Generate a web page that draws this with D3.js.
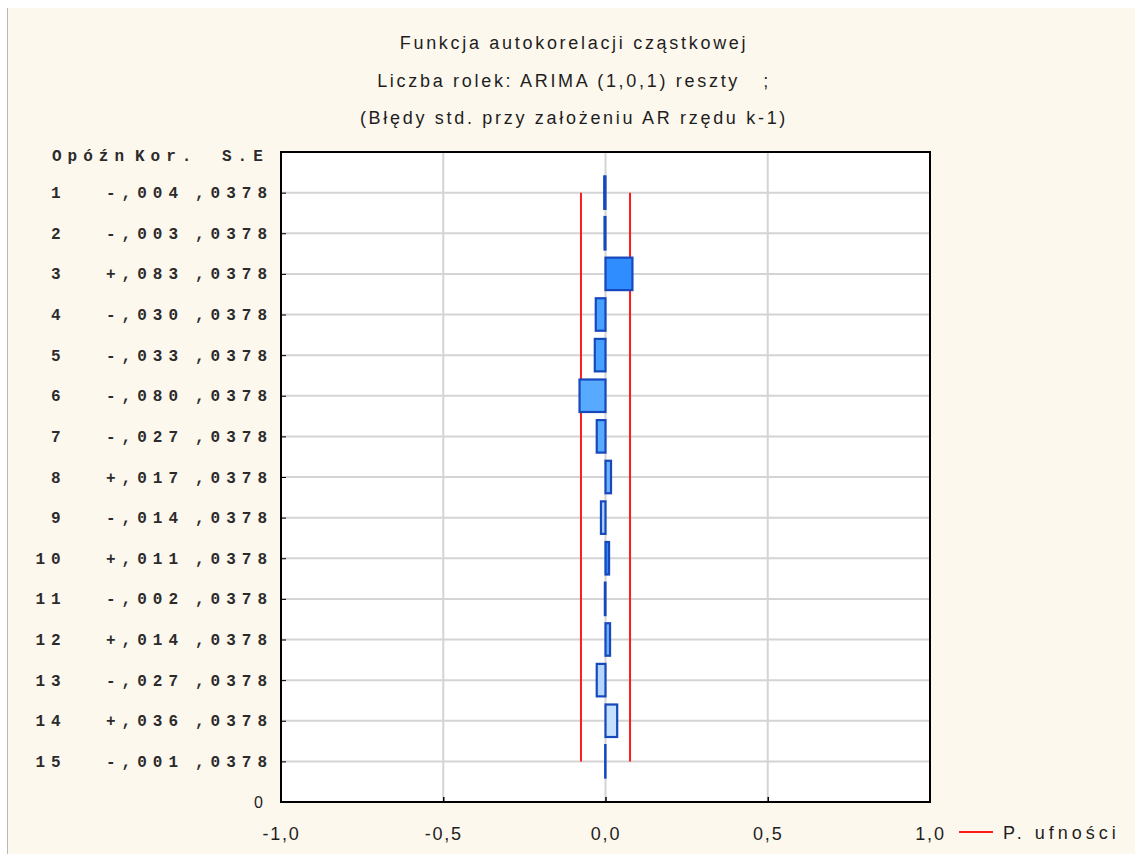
<!DOCTYPE html>
<html>
<head>
<meta charset="utf-8">
<script src="https://cdn.jsdelivr.net/npm/d3@7"></script>
<style>
  html, body { margin: 0; padding: 0; background: #ffffff; }
  svg { display: block; }
  text { white-space: pre; }
</style>
</head>
<body>
<svg id="chart" width="1135" height="854"></svg>
<script>
// ---- data ----
const titleLines = [
  "Funkcja autokorelacji cząstkowej",
  "Liczba rolek: ARIMA (1,0,1) reszty   ;",
  "(Błędy std. przy założeniu AR rzędu k-1)"
];
const lags = [1,2,3,4,5,6,7,8,9,10,11,12,13,14,15];
const pacf = [-0.004,-0.003,0.083,-0.030,-0.033,-0.080,-0.027,0.017,-0.014,0.011,-0.002,0.014,-0.027,0.036,-0.001];
const korLabels = ["-,004","-,003","+,083","-,030","-,033","-,080","-,027","+,017","-,014","+,011","-,002","+,014","-,027","+,036","-,001"];
const seValues = [0.0378,0.0378,0.0378,0.0378,0.0378,0.0378,0.0378,0.0378,0.0378,0.0378,0.0378,0.0378,0.0378,0.0378,0.0378];
const seLabels = [",0378",",0378",",0378",",0378",",0378",",0378",",0378",",0378",",0378",",0378",",0378",",0378",",0378",",0378",",0378"];
const tableHeader = ["Opóźn", "Kor.", "S.E"];
const xTicks = [-1.0, -0.5, 0.0, 0.5, 1.0];
const xGrid = [-0.5, 0.0, 0.5];
const yBottomLabel = "0";
const legendLabel = "P. ufności";
const barShades = ["#2f8dff","#2f8dff","#2f8dff","#45a0ff","#45a0ff","#58aaff","#58aaff","#6cb2ff","#a9d0ff","#2f8dff","#2f8dff","#6cb2ff","#b4d6ff","#c6e0ff","#2f8dff"];

// ---- layout ----
const svg = d3.select("#chart");
const W = 1135, H = 854;
const plot = { left: 281, top: 152, right: 930, bottom: 802 };

svg.append("rect").attr("x", 0).attr("y", 0).attr("width", W).attr("height", H).attr("fill", "#ffffff");
svg.append("rect").attr("x", 8).attr("y", 8).attr("width", W - 8).attr("height", H - 8).attr("fill", "#fdf8ee");
svg.append("line").attr("x1", 7.5).attr("x2", 7.5).attr("y1", 8).attr("y2", H).attr("stroke", "#b8b8b8").attr("stroke-width", 1);

const x = d3.scaleLinear().domain([-1, 1]).range([plot.left, plot.right]);
const y = d3.scaleLinear().domain([0, 16]).range([plot.top, plot.bottom]);
const step = y(1) - y(0);

// titles
const sansFont = "'Liberation Sans', Arial, sans-serif";
const sansSize = 18, sansSpacing = 2.7;
svg.append("g").selectAll("text").data(titleLines).join("text")
  .attr("x", 574).attr("y", (d, i) => 49 + i * 37.5)
  .attr("text-anchor", "middle")
  .attr("font-family", sansFont).attr("font-size", sansSize)
  .attr("letter-spacing", sansSpacing)
  .attr("fill", "#1e1e1e")
  .text(d => d);

// plot background
svg.append("rect").attr("x", plot.left).attr("y", plot.top)
  .attr("width", plot.right - plot.left).attr("height", plot.bottom - plot.top)
  .attr("fill", "#ffffff");

// gridlines
svg.append("g").selectAll("line").data(lags).join("line")
  .attr("x1", plot.left).attr("x2", plot.right)
  .attr("y1", d => y(d)).attr("y2", d => y(d))
  .attr("stroke", "#d4d4d4").attr("stroke-width", 2);
svg.append("g").selectAll("line").data(xGrid).join("line")
  .attr("x1", d => x(d)).attr("x2", d => x(d))
  .attr("y1", plot.top).attr("y2", plot.bottom)
  .attr("stroke", "#d4d4d4").attr("stroke-width", 2);

// confidence limits (±2 SE)
const confGroup = svg.append("g");
[-1, 1].forEach(sign => {
  const line = d3.line().x(d => x(sign * 2 * d.se)).y(d => y(d.lag));
  confGroup.append("path")
    .datum(lags.map((l, i) => ({ lag: l, se: seValues[i] })))
    .attr("d", line)
    .attr("fill", "none").attr("stroke", "#ff1a1a").attr("stroke-width", 2);
});

// bars
const barH = step * 0.8;
svg.append("g").selectAll("rect").data(lags.map((l, i) => ({ lag: l, v: pacf[i], i })))
  .join("rect")
  .attr("x", d => Math.min(x(0), x(d.v)))
  .attr("y", d => y(d.lag) - barH / 2)
  .attr("width", d => Math.abs(x(d.v) - x(0)))
  .attr("height", barH)
  .attr("fill", d => barShades[d.i])
  .attr("stroke", "#1749bd").attr("stroke-width", 2.2);

// frame
svg.append("rect").attr("x", plot.left).attr("y", plot.top)
  .attr("width", plot.right - plot.left).attr("height", plot.bottom - plot.top)
  .attr("fill", "none").attr("stroke", "#000000").attr("stroke-width", 2);

// left ticks (inside)
const yAxis = svg.append("g").attr("transform", `translate(${plot.left},0)`)
  .call(d3.axisRight(y).tickValues(lags).tickSize(5).tickFormat(""));
yAxis.select(".domain").remove();
yAxis.selectAll("line").attr("stroke", "#000").attr("stroke-width", 1);

// bottom ticks (inside)
const xAxisTicks = svg.append("g").attr("transform", `translate(0,${plot.bottom})`)
  .call(d3.axisTop(x).tickValues(xGrid).tickSize(5).tickFormat(""));
xAxisTicks.select(".domain").remove();
xAxisTicks.selectAll("line").attr("stroke", "#000").attr("stroke-width", 1.5);

// bottom labels
const xAxisLabels = svg.append("g").attr("transform", `translate(0,${plot.bottom})`)
  .call(d3.axisBottom(x).tickValues(xTicks).tickSize(0).tickPadding(25)
    .tickFormat(d => d3.format(".1f")(d).replace(".", ",").replace("−", "-")));
xAxisLabels.select(".domain").remove();
xAxisLabels.selectAll("text")
  .attr("font-family", sansFont).attr("font-size", sansSize)
  .attr("letter-spacing", 1.8).attr("fill", "#1e1e1e");

// left "0"
svg.append("text").attr("x", 263).attr("y", y(16) + 6)
  .attr("text-anchor", "end")
  .attr("font-family", sansFont).attr("font-size", 16).attr("fill", "#1e1e1e")
  .text(yBottomLabel);

// legend
svg.append("line").attr("x1", 959).attr("x2", 993).attr("y1", 832).attr("y2", 832)
  .attr("stroke", "#ff1a1a").attr("stroke-width", 2);
svg.append("text").attr("x", 1003).attr("y", 839)
  .attr("font-family", sansFont).attr("font-size", sansSize)
  .attr("letter-spacing", 4).attr("fill", "#1e1e1e")
  .text(legendLabel);

// table text (monospace)
const monoFont = "'Liberation Mono', 'DejaVu Sans Mono', monospace";
const monoSize = 16;
const adv = 15.6;
const tbl = svg.append("g")
  .attr("font-family", monoFont).attr("font-size", monoSize).attr("font-weight", "bold")
  .attr("letter-spacing", adv - monoSize * 0.6).attr("fill", "#2b2b2b");
tbl.append("text").attr("x", 52).attr("y", 161).text(tableHeader[0]);
tbl.append("text").attr("x", 135).attr("y", 161).text(tableHeader[1]);
tbl.append("text").attr("x", 222).attr("y", 161).text(tableHeader[2]);

tbl.selectAll("text.lag").data(lags).join("text").attr("class", "lag")
  .attr("x", d => 51 - (String(d).length - 1) * adv)
  .attr("y", d => y(d) + 5.5)
  .text(d => String(d));
tbl.selectAll("text.kor").data(korLabels).join("text").attr("class", "kor")
  .attr("x", 106).attr("y", (d, i) => y(lags[i]) + 5.5)
  .text(d => d);
tbl.selectAll("text.se").data(seLabels).join("text").attr("class", "se")
  .attr("x", 195).attr("y", (d, i) => y(lags[i]) + 5.5)
  .text(d => d);
</script>
</body>
</html>
